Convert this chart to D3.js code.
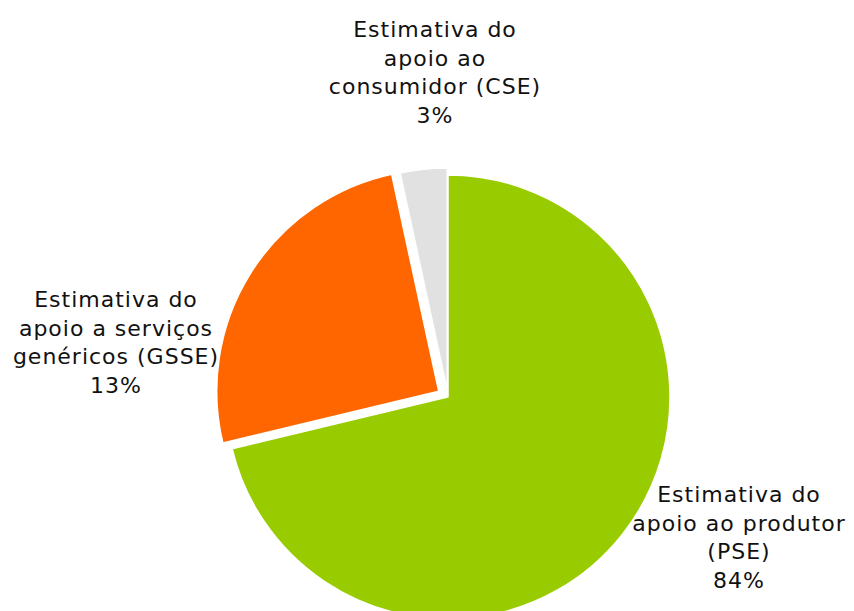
<!DOCTYPE html>
<html lang="pt">
<head>
  <meta charset="UTF-8">
  <title>Estimativas de apoio</title>
  <script src="https://d3js.org/d3.v7.min.js"></script>
  <style>
    body { background: #fff; margin: 0; }
    svg { display: block; }
    .label { font-family: "DejaVu Sans", Verdana, sans-serif; font-size: 22px; letter-spacing: 1px; fill: #111; }
  </style>
</head>
<body>
  <svg width="854" height="611"></svg>

  <script>
    // slice shares as drawn, clockwise from 12 o'clock
    const categories = ["PSE", "GSSE", "CSE"];
    const shares = [71.25, 25.35, 3.4];
    const colors = ["#99cc00", "#ff6600", "#e1e1e1"];
    // label text as printed on the chart
    const labelLines = [
      ["Estimativa do", "apoio ao produtor", "(PSE)"],
      ["Estimativa do", "apoio a serviços", "genéricos (GSSE)"],
      ["Estimativa do", "apoio ao", "consumidor (CSE)"]
    ];
    const labelPct = ["84%", "13%", "3%"];

    // layout
    const cx = 448, cy = 397, radius = 222;
    const explode = [0, 11, 7];
    const labelAnchor = [[739, 502], [116, 307], [435, 37]];
    const lineHeight = 28.6;

    const svg = d3.select("svg");

    const pie = d3.pie().sort(null).value(d => d)
      .startAngle(0).endAngle(2 * Math.PI);
    const arcs = pie(shares);
    const arc = d3.arc().innerRadius(0).outerRadius(radius);

    const g = svg.append("g").attr("transform", `translate(${cx},${cy})`);

    g.selectAll("path")
      .data(arcs)
      .enter()
      .append("path")
      .attr("d", arc)
      .attr("fill", (d, i) => colors[i])
      .attr("stroke", "#fff")
      .attr("stroke-width", 1.5)
      .attr("transform", (d, i) => {
        const a = (d.startAngle + d.endAngle) / 2;
        const off = explode[i];
        return `translate(${off * Math.sin(a)},${-off * Math.cos(a)})`;
      });

    // labels
    categories.forEach((c, i) => {
      const lines = labelLines[i].concat([labelPct[i]]);
      const t = svg.append("text")
        .attr("class", "label")
        .attr("text-anchor", "middle");
      lines.forEach((ln, j) => {
        t.append("tspan")
          .attr("x", labelAnchor[i][0])
          .attr("y", labelAnchor[i][1] + j * lineHeight)
          .text(ln);
      });
    });
  </script>
</body>
</html>
